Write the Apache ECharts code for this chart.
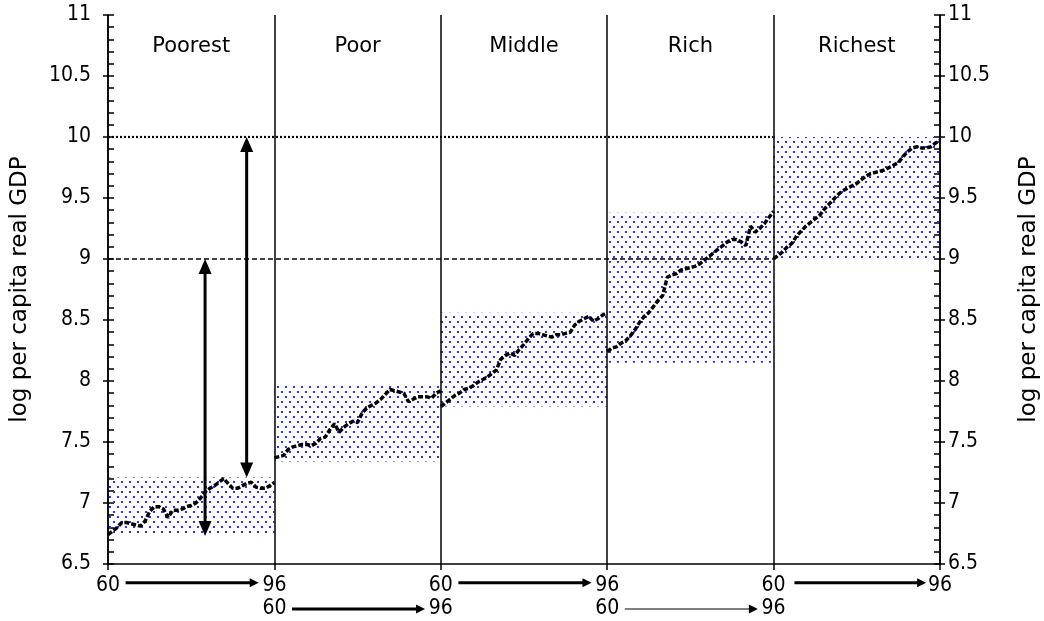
<!DOCTYPE html>
<html>
<head>
<meta charset="utf-8">
<script src="https://cdn.jsdelivr.net/npm/echarts@6/dist/echarts.min.js"></script>
<style>
html, body { margin: 0; padding: 0; background: #fff; }
#container { width: 1044px; height: 621px; }
</style>
</head>
<body>
<div id="container"></div>
<script>
// groups (panels), each covers the years 60..96
var groups = ['Poorest', 'Poor', 'Middle', 'Rich', 'Richest'];
var years = [];
for (var y = 60; y <= 96; y++) years.push(y);
var span = 36; // years per panel on the shared x axis

// log per capita real GDP, one value per year 60..96
var poorest = [6.74,6.77,6.80,6.84,6.84,6.83,6.82,6.81,6.85,6.93,6.97,6.97,6.95,6.88,6.94,6.94,6.95,6.97,6.98,7.00,7.04,7.09,7.12,7.14,7.17,7.20,7.16,7.12,7.12,7.14,7.16,7.17,7.13,7.12,7.12,7.14,7.17];
var poor    = [7.37,7.38,7.39,7.44,7.46,7.47,7.48,7.48,7.47,7.49,7.53,7.54,7.60,7.65,7.58,7.62,7.65,7.67,7.66,7.74,7.78,7.80,7.82,7.85,7.89,7.93,7.92,7.91,7.90,7.83,7.85,7.87,7.87,7.87,7.86,7.90,7.92];
var middle  = [7.79,7.82,7.85,7.88,7.90,7.93,7.94,7.96,7.99,8.01,8.03,8.06,8.09,8.18,8.21,8.23,8.21,8.26,8.30,8.35,8.39,8.39,8.38,8.37,8.36,8.38,8.38,8.39,8.40,8.46,8.49,8.51,8.53,8.49,8.51,8.54,8.56];
var rich    = [8.24,8.27,8.28,8.31,8.33,8.37,8.42,8.48,8.53,8.56,8.61,8.66,8.70,8.85,8.87,8.88,8.91,8.92,8.93,8.94,8.96,8.99,9.02,9.05,9.08,9.11,9.14,9.16,9.16,9.14,9.11,9.27,9.22,9.25,9.29,9.34,9.39];
var richest = [9.00,9.03,9.06,9.10,9.13,9.19,9.23,9.27,9.30,9.33,9.36,9.41,9.45,9.49,9.53,9.56,9.58,9.60,9.62,9.65,9.68,9.70,9.71,9.72,9.73,9.75,9.77,9.79,9.84,9.88,9.91,9.92,9.91,9.91,9.92,9.95,9.97];
var groupValues = [poorest, poor, middle, rich, richest];

// shaded range of each panel (low, high)
var boxLow  = [6.74, 7.34, 7.79, 8.15, 9.00];
var boxHigh = [7.21, 7.96, 8.56, 9.38, 10.00];

// reference levels, drawn across the first four panels
var refLevels = [10, 9];
var refEnd = 144;

// double headed arrows inside the plot: [x, bottom, top]
var gapArrows = [[21, 6.73, 9.0], [30, 7.21, 10.0]];

// x tick labels (two rows) and the 60 -> 96 arrows under the axis
var tickRow1 = ['60', '96', '60', '96', '60', '96'];
var tickRow2 = ['', '60', '96', '60', '96', ''];
var axisArrowFrom = [3.8, 39.8, 75.8, 111.8, 148.5];
var axisArrowTo   = [32.6, 68.6, 104.6, 140.6, 177.0];
var axisArrowLevel = [6.347, 6.131, 6.347, 6.131, 6.347];

var yTicks = { min: 6.5, max: 11, step: 0.5 };

var numFont = "'DejaVu Sans Condensed', sans-serif";
var textFont = "'DejaVu Sans', sans-serif";

// dotted blue fill
var tile = document.createElement('canvas');
tile.width = 8; tile.height = 10;
var tc = tile.getContext('2d');
tc.fillStyle = '#2f2fff';
tc.fillRect(1, 1, 2, 2);
tc.fillRect(5, 6, 2, 2);
var dots = { image: tile, repeat: 'repeat' };

var myChart = echarts.init(document.getElementById('container'));

var series = [];

// shaded boxes
series.push({
  type: 'custom',
  z: 1,
  silent: true,
  clip: false,
  data: groups.map(function (g, i) { return [i * span, (i + 1) * span, boxLow[i], boxHigh[i]]; }),
  renderItem: function (params, api) {
    var a = api.coord([api.value(0), api.value(3)]);
    var b = api.coord([api.value(1), api.value(2)]);
    return {
      type: 'rect',
      shape: { x: a[0], y: a[1], width: b[0] - a[0], height: b[1] - a[1] },
      style: { fill: dots }
    };
  }
});

// reference lines at 10 and 9
series.push({
  type: 'line', z: 3, silent: true, symbol: 'none',
  data: [[0, refLevels[0]], [refEnd, refLevels[0]]],
  lineStyle: { color: '#000', width: 2.2, type: [2, 2] }
});
series.push({
  type: 'line', z: 3, silent: true, symbol: 'none',
  data: [[0, refLevels[1]], [refEnd, refLevels[1]]],
  lineStyle: { color: '#000', width: 1.3, type: [5, 3] }
});

// the five income series
groupValues.forEach(function (vals, i) {
  series.push({
    type: 'line',
    name: groups[i],
    z: 4,
    symbol: 'none',
    data: years.map(function (yr, k) { return [i * span + (yr - 60), vals[k]]; }),
    lineStyle: { color: '#000', width: 3.5, type: [5, 2] }
  });
});

// panel titles
series.push({
  type: 'custom', z: 5, silent: true, clip: false,
  data: groups.map(function (g, i) { return [i * span + span / 2, 10.74, g]; }),
  renderItem: function (params, api) {
    var p = api.coord([api.value(0), api.value(1)]);
    return {
      type: 'text',
      style: {
        x: p[0], y: p[1], text: groups[params.dataIndex],
        fill: '#000', font: '21px ' + textFont, align: 'center', verticalAlign: 'middle'
      }
    };
  }
});

function arrowHead(x, y, dx, dy, len, half) {
  // tip at (x,y), pointing along (dx,dy)
  var bx = x - dx * len, by = y - dy * len;
  return {
    type: 'polygon',
    shape: { points: [[x, y], [bx - dy * half, by + dx * half], [bx + dy * half, by - dx * half]] },
    style: { fill: '#000' }
  };
}

// vertical double headed arrows
series.push({
  type: 'custom', z: 6, silent: true, clip: false,
  data: gapArrows,
  renderItem: function (params, api) {
    var lo = api.coord([api.value(0), api.value(1)]);
    var hi = api.coord([api.value(0), api.value(2)]);
    return {
      type: 'group',
      children: [
        { type: 'line', shape: { x1: lo[0], y1: lo[1] - 10, x2: hi[0], y2: hi[1] + 10 }, style: { stroke: '#000', lineWidth: 3 } },
        arrowHead(hi[0], hi[1], 0, -1, 15, 6.5),
        arrowHead(lo[0], lo[1], 0, 1, 15, 6.5)
      ]
    };
  }
});

// arrows under the x axis
series.push({
  type: 'custom', z: 6, silent: true, clip: false,
  data: axisArrowFrom.map(function (f, i) { return [f, axisArrowTo[i], axisArrowLevel[i]]; }),
  renderItem: function (params, api) {
    var a = api.coord([api.value(0), api.value(2)]);
    var b = api.coord([api.value(1), api.value(2)]);
    var w = params.dataIndex === 3 ? 1.2 : 3;
    return {
      type: 'group',
      children: [
        { type: 'line', shape: { x1: a[0], y1: a[1], x2: b[0] - 6, y2: b[1] }, style: { stroke: '#000', lineWidth: w } },
        arrowHead(b[0], b[1], 1, 0, 9, 4.5)
      ]
    };
  }
});

function valueAxis(pos, withName) {
  return {
    type: 'value',
    position: pos,
    min: yTicks.min, max: yTicks.max, interval: yTicks.step,
    name: withName ? 'log per capita real GDP' : '',
    nameLocation: 'middle',
    nameRotate: 90,
    nameGap: pos === 'left' ? 76 : 78,
    nameTextStyle: { color: '#000', fontSize: 23, fontFamily: textFont },
    axisLine: { show: true, lineStyle: { color: '#000', width: 1.5 } },
    axisTick: { show: true, inside: false, length: 5, lineStyle: { color: '#000', width: 1.5 } },
    axisLabel: {
      color: '#000', fontSize: 21, fontFamily: numFont, margin: pos === 'left' ? 17 : 8,
      formatter: function (v) { return String(Math.round(v * 10) / 10); }
    },
    splitLine: { show: false }
  };
}

function innerTicks(pos) {
  return {
    type: 'value',
    position: pos,
    min: yTicks.min, max: yTicks.max, interval: 0.1,
    axisLine: { show: false },
    axisTick: { show: true, inside: true, length: 6, lineStyle: { color: '#000', width: 1.5 } },
    axisLabel: { show: false },
    splitLine: { show: false }
  };
}

myChart.setOption({
  backgroundColor: '#fff',
  animation: false,
  grid: { left: 108, right: 104, top: 15, bottom: 57, containLabel: false, outerBoundsMode: 'none' },
  xAxis: {
    type: 'value',
    min: 0, max: span * groups.length, interval: span,
    z: 3,
    axisLine: { show: true, lineStyle: { color: '#000', width: 1.5 } },
    axisTick: { show: true, length: 6, lineStyle: { color: '#000', width: 1.5 } },
    splitLine: { show: true, lineStyle: { color: '#000', width: 1.5 } },
    axisLabel: {
      color: '#000', fontSize: 21, fontFamily: numFont, margin: 10, lineHeight: 23,
      showMinLabel: true, showMaxLabel: true,
      formatter: function (v) {
        var i = Math.round(v / span);
        return tickRow2[i] ? tickRow1[i] + '\n' + tickRow2[i] : tickRow1[i];
      }
    }
  },
  yAxis: [valueAxis('left', true), valueAxis('right', true), innerTicks('left'), innerTicks('right')],
  series: series
});
</script>
</body>
</html>
